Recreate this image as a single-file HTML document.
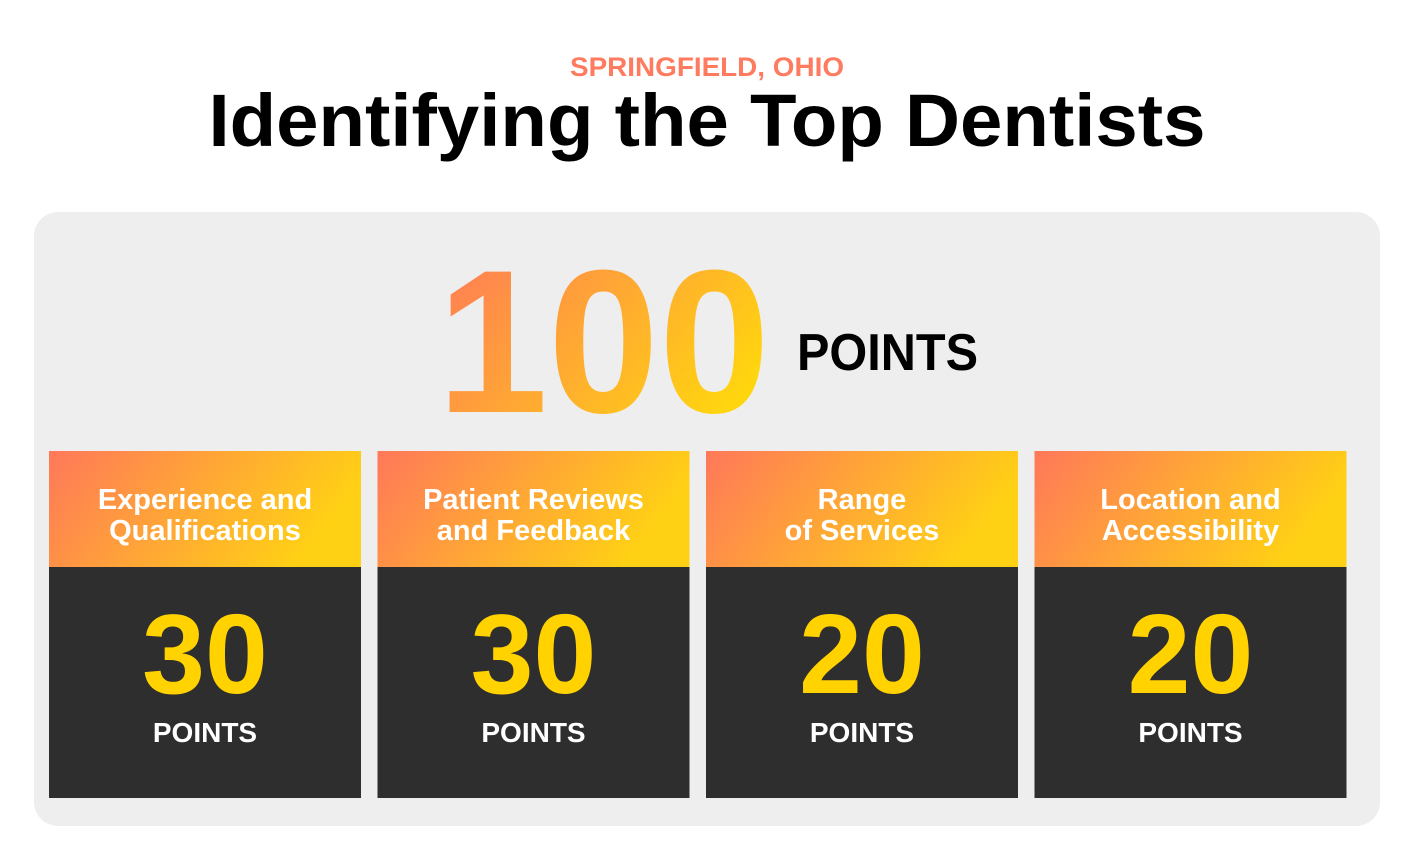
<!DOCTYPE html>
<html><head><meta charset="utf-8"><style>
html,body{margin:0;padding:0;background:#fff;width:1414px;height:841px;overflow:hidden;font-family:"Liberation Sans",sans-serif}
svg{display:block}
</style></head><body>
<svg width="1414" height="841" viewBox="0 0 1414 841">
<defs>
<linearGradient id="g100" x1="0" y1="0" x2="1" y2="0.6">
<stop offset="0" stop-color="#FF755C"/><stop offset="1" stop-color="#FFD60E"/></linearGradient>
<linearGradient id="gh" x1="0" y1="0" x2="1" y2="0.3">
<stop offset="0" stop-color="#FF785A"/><stop offset="1" stop-color="#FFD114"/></linearGradient>
</defs>
<text x="707" y="76" text-anchor="middle" font-size="27" font-weight="bold" fill="#FF7B5F" textLength="274" lengthAdjust="spacingAndGlyphs">SPRINGFIELD, OHIO</text>
<text x="707" y="146" text-anchor="middle" font-size="74" font-weight="bold" fill="#000" textLength="997" lengthAdjust="spacingAndGlyphs">Identifying the Top Dentists</text>
<rect x="34" y="212" width="1346" height="614" rx="24" fill="#EEEEEE"/>
<text x="437" y="412" font-size="204" font-weight="bold" fill="url(#g100)" textLength="333" lengthAdjust="spacingAndGlyphs">100</text>
<text x="797" y="370" font-size="52" font-weight="bold" fill="#000" textLength="181" lengthAdjust="spacingAndGlyphs">POINTS</text>
<g id="cards"></g>
</svg>
<script>
const categories1 = ["Experience and","Patient Reviews","Range","Location and"];
const categories2 = ["Qualifications","and Feedback","of Services","Accessibility"];
const pointValues = [30,30,20,20];
const NS="http://www.w3.org/2000/svg";
const g=document.getElementById('cards');
function mk(tag,attrs,txt){const e=document.createElementNS(NS,tag);for(const k in attrs)e.setAttribute(k,attrs[k]);if(txt!==undefined)e.textContent=txt;return e;}
pointValues.forEach((v,i)=>{
  const x=49+i*328.5, w=312, cx=x+w/2;
  const card=mk('g',{});
  
  
  const h=mk('rect',{x:x,y:451,width:w,height:116,fill:'url(#gh)'});
  
  
  const b=mk('rect',{x:x,y:567,width:w,height:231,fill:'#2E2E2E'});
  
  
  const t1=mk('text',{x:cx,y:509,'text-anchor':'middle','font-size':29,'font-weight':'bold',fill:'#fff'},categories1[i]);
  
  
  const t2=mk('text',{x:cx,y:540,'text-anchor':'middle','font-size':29,'font-weight':'bold',fill:'#fff'},categories2[i]);
  
  
  const n=mk('text',{x:cx,y:693,'text-anchor':'middle','font-size':113,'font-weight':'bold',fill:'#FFD200'},String(v));
  
  
  const p=mk('text',{x:cx,y:742,'text-anchor':'middle','font-size':28,'font-weight':'bold',fill:'#fff'},'POINTS');
  
  
  [h,b,t1,t2,n,p].forEach(e=>card.appendChild(e));
  g.appendChild(card);
});
</script>
</body></html>
